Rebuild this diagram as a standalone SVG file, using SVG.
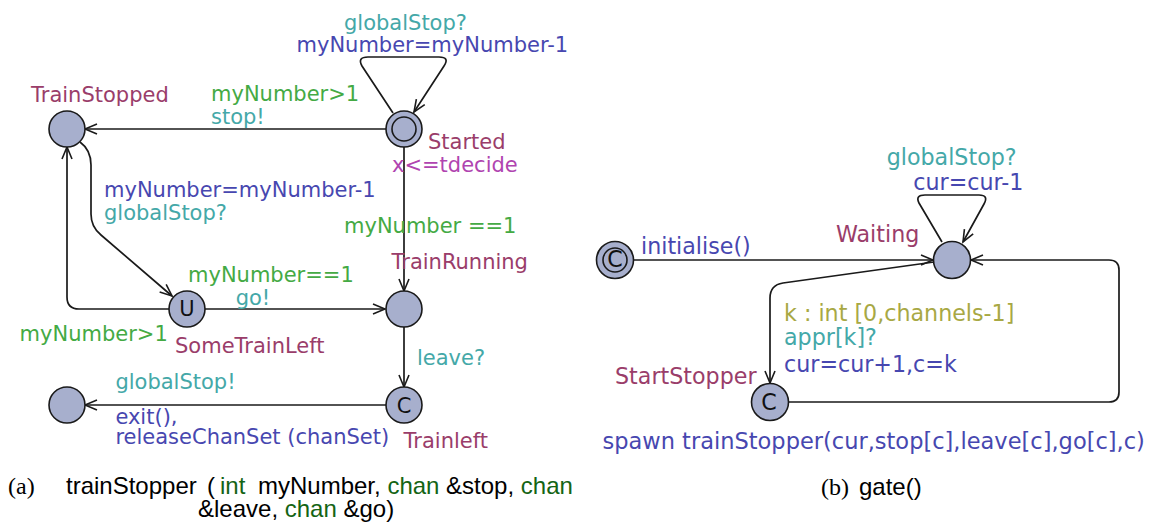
<svg xmlns="http://www.w3.org/2000/svg" width="1150" height="526" viewBox="0 0 1150 526">
<defs>
<style>
.n{fill:#a7afcd;stroke:#1a1a1a;stroke-width:1.6}
.e{fill:none;stroke:#1a1a1a;stroke-width:1.7}
.a text,.b text{font-family:"DejaVu Sans",sans-serif}
.a text{font-size:21px}
.b text{font-size:22.2px}
.nm{fill:#9a3d6a}
.gd{fill:#44aa44}
.sy{fill:#44a8a8}
.up{fill:#4747b0}
.iv{fill:#b044b0}
.se{fill:#a8a844}
.sym{font-family:"DejaVu Sans",sans-serif;fill:#111;text-anchor:middle}
.cap{font-family:"Liberation Sans",Arial,sans-serif;font-size:24px;fill:#000}
.capser{font-family:"Liberation Serif","Times New Roman",serif;font-size:24px;fill:#000}
.kw{fill:#146414}
</style>
<marker id="arr" viewBox="-14 -7 16 14" refX="0" refY="0" markerWidth="16" markerHeight="14" markerUnits="userSpaceOnUse" orient="auto">
<path d="M-12,-5 L0,0 L-12,5" fill="none" stroke="#1a1a1a" stroke-width="1.6"/>
</marker>
</defs>
<rect width="1150" height="526" fill="#fff"/>

<g id="connectors">
<path class="e" d="M386,129 L85,129" marker-end="url(#arr)"/>
<path class="e" d="M393,113 L362,66 Q357,57 368,57 L439,57 Q450,57 444,66 L414,112" marker-end="url(#arr)"/>
<path class="e" d="M404,147 L404,291" marker-end="url(#arr)"/>
<path class="e" d="M80,142 Q91,150 91,165 L91,214 Q91,227 101,235 L172,296" marker-end="url(#arr)"/>
<path class="e" d="M169,309 L79,309 Q67,309 67,297 L67,147" marker-end="url(#arr)"/>
<path class="e" d="M205,309 L385,309" marker-end="url(#arr)"/>
<path class="e" d="M404,327 L404,387" marker-end="url(#arr)"/>
<path class="e" d="M386,405 L85,405" marker-end="url(#arr)"/>
<path class="e" d="M634,260 L933,260" marker-end="url(#arr)"/>
<path class="e" d="M942,242 L919,203 Q915,195 925,195 L979,195 Q989,195 984,204 L963,242" marker-end="url(#arr)"/>
<path class="e" d="M934,262 L783,283 Q770,285 770,298 L770,383" marker-end="url(#arr)"/>
<path class="e" d="M788,402 L1109,402 Q1119,402 1119,392 L1119,270 Q1119,260 1109,260 L971,260" marker-end="url(#arr)"/>
</g>

<g class="a">
<g id="TrainStopped">
<circle class="n" cx="67" cy="129" r="18"/>
<text class="nm" x="31" y="101.5">TrainStopped</text>
</g>
<g id="Started">
<circle class="n" cx="404" cy="129" r="18"/>
<circle cx="404" cy="129" r="12" fill="none" stroke="#1a1a1a" stroke-width="1.6"/>
<text class="nm" x="428" y="149">Started</text>
<text class="iv" x="392" y="171.5">x&lt;=tdecide</text>
</g>
<g id="SomeTrainLeft">
<circle class="n" cx="187" cy="309" r="18"/>
<text class="sym" x="187" y="316" font-size="18">U</text>
<text class="nm" x="175" y="352.5">SomeTrainLeft</text>
</g>
<g id="TrainRunning">
<circle class="n" cx="404" cy="309" r="18"/>
<text class="nm" x="391.5" y="269">TrainRunning</text>
</g>
<g id="Trainleft">
<circle class="n" cx="404" cy="405" r="18"/>
<text class="sym" x="404" y="412.5" font-size="19">C</text>
<text class="nm" x="403.6" y="448">Trainleft</text>
</g>
<g id="Exit">
<circle class="n" cx="67" cy="405" r="18"/>
</g>
<g id="labels-a">
<text class="sy" x="344" y="30">globalStop?</text>
<text class="up" x="296.5" y="51.5">myNumber=myNumber-1</text>
<text class="gd" x="211" y="100.5">myNumber&gt;1</text>
<text class="sy" x="211" y="124">stop!</text>
<text class="up" x="104" y="197">myNumber=myNumber-1</text>
<text class="sy" x="104" y="220">globalStop?</text>
<text class="gd" x="344" y="232.5">myNumber ==1</text>
<text class="gd" x="188" y="281.5">myNumber==1</text>
<text class="sy" x="235.7" y="305">go!</text>
<text class="gd" x="19.6" y="341">myNumber&gt;1</text>
<text class="sy" x="417" y="365">leave?</text>
<text class="sy" x="115.4" y="389">globalStop!</text>
<text class="up" x="115.4" y="423.5">exit(),</text>
<text class="up" x="115.4" y="444">releaseChanSet (chanSet)</text>
</g>
</g>

<g class="b">
<g id="Init">
<circle class="n" cx="615" cy="260" r="18.5"/>
<circle cx="615" cy="260" r="12" fill="none" stroke="#1a1a1a" stroke-width="1.6"/>
<text class="sym" x="615" y="267" font-size="19">C</text>
</g>
<g id="Waiting">
<circle class="n" cx="952" cy="260" r="18.5"/>
<text class="nm" x="836" y="241.7">Waiting</text>
</g>
<g id="StartStopper">
<circle class="n" cx="770" cy="402" r="18.5"/>
<text class="sym" x="769" y="410" font-size="20">C</text>
<text class="nm" x="615" y="384">StartStopper</text>
</g>
<g id="labels-b">
<text class="sy" x="886.7" y="165">globalStop?</text>
<text class="up" x="913.3" y="190">cur=cur-1</text>
<text class="up" x="641" y="254">initialise()</text>
<text class="se" x="784" y="320.7">k : int [0,channels-1]</text>
<text class="sy" x="784" y="345">appr[k]?</text>
<text class="up" x="784" y="371.7">cur=cur+1,c=k</text>
<text class="up" x="602.5" y="449.3" style="font-size:22.5px">spawn trainStopper(cur,stop[c],leave[c],go[c],c)</text>
</g>
</g>

<g id="captions">
<text class="capser" x="8" y="494">(a)</text>
<text class="cap" y="494"><tspan x="66">trainStopper</tspan><tspan x="207">(</tspan><tspan class="kw" x="220">int</tspan><tspan x="258">myNumber, </tspan><tspan class="kw">chan</tspan><tspan> &amp;stop, </tspan><tspan class="kw">chan</tspan></text>
<text class="cap" x="198" y="517">&amp;leave, <tspan class="kw">chan</tspan> &amp;go)</text>
<text class="capser" x="821" y="495">(b)</text>
<text class="cap" x="859" y="495">gate()</text>
</g>
</svg>
